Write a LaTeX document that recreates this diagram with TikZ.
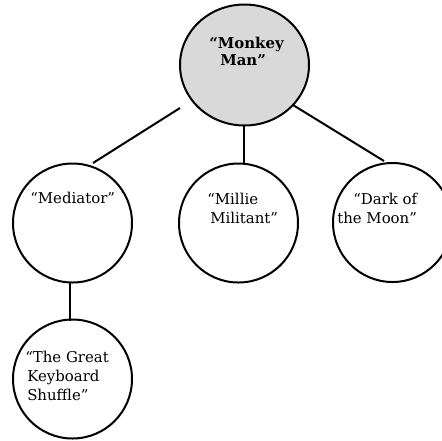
\documentclass[tikz,border=0pt]{standalone}
\usepackage{fontspec}
\setmainfont{DejaVu Serif}
\usetikzlibrary{shapes.geometric}
\definecolor{topfill}{RGB}{217,217,217}
\tikzset{
  x=0.75pt, y=-0.75pt,
  bubble/.style={circle, draw=black, line width=1.5pt, minimum size=89.25pt, inner sep=0pt},
  topbubble/.style={ellipse, draw=black, fill=topfill, line width=1.5pt, minimum width=96.75pt, minimum height=90.75pt, inner sep=0pt},
  lbl/.style={anchor=base west, inner sep=0pt, font=\fontsize{11.2}{14}\selectfont},
  boldlbl/.style={lbl, font=\fontsize{11.2}{14}\selectfont\bfseries},
  conn/.style={line width=1.5pt, line cap=butt}
}
\begin{document}
\begin{tikzpicture}
\useasboundingbox (0,0) rectangle (442,440);
% circles
\node[topbubble] (top) at (244.5,65) {};
\node[bubble] (med) at (72.5,223) {};
\node[bubble] (mil) at (238.5,223) {};
\node[bubble] (dark) at (392.5,222.5) {};
\node[bubble] (key) at (72.5,379) {};
% labels
\node[boldlbl] (t1) at (209,48) {“Monkey};
\node[boldlbl] (t2) at (220,65.5) {Man”};
\node[lbl] (m1) at (30,203) {“Mediator”};
\node[lbl] (mi1) at (207,204) {“Millie};
\node[lbl] (mi2) at (210,223) {Militant”};
\node[lbl] (d1) at (353,204) {“Dark of};
\node[lbl] (d2) at (337,223) {the Moon”};
\node[lbl] (k1) at (25,362) {“The Great};
\node[lbl] (k2) at (27,381) {Keyboard};
\node[lbl] (k3) at (27,400) {Shuffle”};
% connector ends
\coordinate (topL) at (180,108);
\coordinate (medT) at (93,163);
\coordinate (topR) at (293,105);
\coordinate (darkT) at (384,161);
\coordinate (topB) at (244,125);
\coordinate (milT) at (244,162.5);
\coordinate (medB) at (70,283);
\coordinate (keyT) at (70,320.5);
% connectors
\draw[conn] (topL) -- (medT);
\draw[conn] (topR) -- (darkT);
\draw[conn] (topB) -- (milT);
\draw[conn] (medB) -- (keyT);
\end{tikzpicture}
\end{document}
